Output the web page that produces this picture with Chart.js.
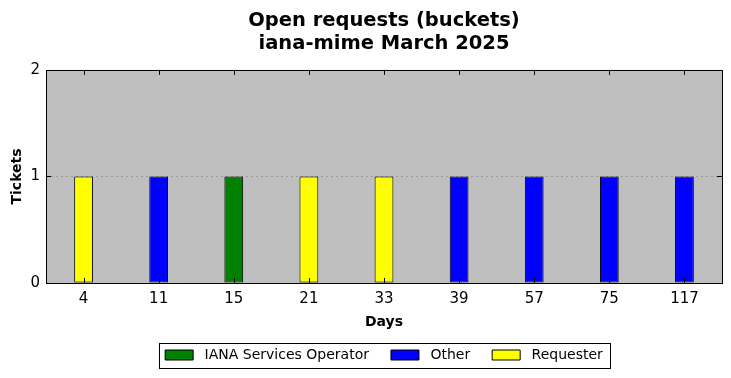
<!DOCTYPE html>
<html>
<head>
<meta charset="utf-8">
<script src="https://cdn.jsdelivr.net/npm/chart.js@4/dist/chart.umd.min.js"></script>
<style>
  html, body { margin: 0; padding: 0; background: #fff; }
  #wrap { width: 731px; height: 378px; }
</style>
</head>
<body>
<div id="wrap"><canvas id="c" width="731" height="378"></canvas></div>
<script>
const days = ["4", "11", "15", "21", "33", "39", "57", "75", "117"]
const ianaOperator = [null, null, 1, null, null, null, null, null, null]
const other = [null, 1, null, null, null, 1, 1, 1, 1]
const requester = [1, null, null, 1, 1, null, null, null, null]
const yTicks = [0, 1, 2]

const FONT = "'DejaVu Sans', sans-serif"

// matplotlib-ish frame: grey plot area, black border, inward ticks, boxed legend
const framePlugin = {
  id: "frame",
  afterLayout(chart) {
    // center title and legend over the plot area, not the whole canvas
    const a = chart.chartArea
    ;[chart.titleBlock, chart.legend].forEach(b => {
      if (!b) return
      b.left = a.left
      b.right = a.right
      b.width = a.right - a.left
    })
  },
  beforeDraw(chart) {
    const { ctx, chartArea: a } = chart
    ctx.save()
    ctx.fillStyle = "#bfbfbf"
    ctx.fillRect(a.left, a.top, a.right - a.left, a.bottom - a.top)
    ctx.restore()
  },
  afterDraw(chart) {
    const { ctx, chartArea: a } = chart
    const x = chart.scales.x
    const y = chart.scales.y
    ctx.save()
    ctx.strokeStyle = "#000"
    ctx.lineWidth = 1
    ctx.beginPath()
    x.ticks.forEach((t, i) => {
      const px = Math.round(x.getPixelForTick(i)) + 0.5
      ctx.moveTo(px, a.top); ctx.lineTo(px, a.top + 5)
      ctx.moveTo(px, a.bottom); ctx.lineTo(px, a.bottom - 5)
    })
    y.ticks.forEach((t, i) => {
      const py = Math.round(y.getPixelForTick(i)) + 0.5
      ctx.moveTo(a.left, py); ctx.lineTo(a.left + 5, py)
      ctx.moveTo(a.right, py); ctx.lineTo(a.right - 5, py)
    })
    ctx.stroke()
    ctx.strokeRect(Math.round(a.left) + 0.5, Math.round(a.top) + 0.5,
      Math.round(a.right - a.left), Math.round(a.bottom - a.top))

    const boxes = chart.legend.legendHitBoxes
    if (boxes && boxes.length) {
      const l = Math.min(...boxes.map(b => b.left)) - 6
      const r = Math.max(...boxes.map(b => b.left + b.width)) + 7
      const t = Math.min(...boxes.map(b => b.top)) - 5
      const bt = Math.max(...boxes.map(b => b.top + b.height)) + 6
      ctx.strokeRect(Math.round(l) + 0.5, Math.round(t) + 0.5, Math.round(r - l), Math.round(bt - t))
    }
    ctx.restore()
  }
}

const ds = (label, data, color) => ({
  label,
  data,
  backgroundColor: color,
  borderColor: "#000",
  borderWidth: 1,
  borderSkipped: false,
  barPercentage: 0.25,
  categoryPercentage: 1.0,
})

new Chart(document.getElementById("c"), {
  type: "bar",
  data: {
    labels: days,
    datasets: [
      ds("IANA Services Operator", ianaOperator, "#008000"),
      ds("Other", other, "#0000ff"),
      ds("Requester", requester, "#ffff00"),
    ]
  },
  options: {
    responsive: false,
    animation: false,
    layout: { padding: { top: 0, left: 0, right: 9, bottom: 6 } },
    plugins: {
      title: {
        display: true,
        text: ["Open requests (buckets)", "iana-mime March 2025"],
        color: "#000",
        font: { family: FONT, size: 19.5, weight: "bold", lineHeight: 1.15 },
        padding: { top: 10, bottom: 15 },
      },
      legend: {
        display: true,
        position: "bottom",
        labels: {
          color: "#000",
          font: { family: FONT, size: 14 },
          boxWidth: 28,
          boxHeight: 10,
          padding: 22,
          generateLabels: (chart) =>
            Chart.defaults.plugins.legend.labels.generateLabels(chart)
              .map(item => ({ ...item, text: " " + item.text })),
        }
      },
      tooltip: { enabled: false },
    },
    scales: {
      x: {
        stacked: true,
        grid: { display: false, drawTicks: false },
        border: { display: false },
        ticks: { color: "#000", font: { family: FONT, size: 15 }, padding: 7 },
        title: {
          display: true,
          text: "Days",
          color: "#000",
          font: { family: FONT, size: 14, weight: "bold" },
          padding: { top: 6, bottom: -5 },
        },
        afterFit: (s) => { s.height = 43 },
      },
      y: {
        stacked: true,
        min: 0,
        max: 2,
        afterBuildTicks: (s) => { s.ticks = yTicks.map(v => ({ value: v })) },
        grid: {
          drawTicks: false,
          color: (c) => c.tick && c.tick.value === 1 ? "#999" : "rgba(0,0,0,0)",
          lineWidth: 1,
        },
        border: { display: false, dash: [2, 3] },
        ticks: { color: "#000", font: { family: FONT, size: 15 }, padding: 6 },
        title: {
          display: true,
          text: "Tickets",
          color: "#000",
          font: { family: FONT, size: 14, weight: "bold" },
          padding: { top: 9, bottom: 4 },
        },
        afterFit: (s) => { s.width = 46 },
      }
    }
  },
  plugins: [framePlugin]
})
</script>
</body>
</html>
